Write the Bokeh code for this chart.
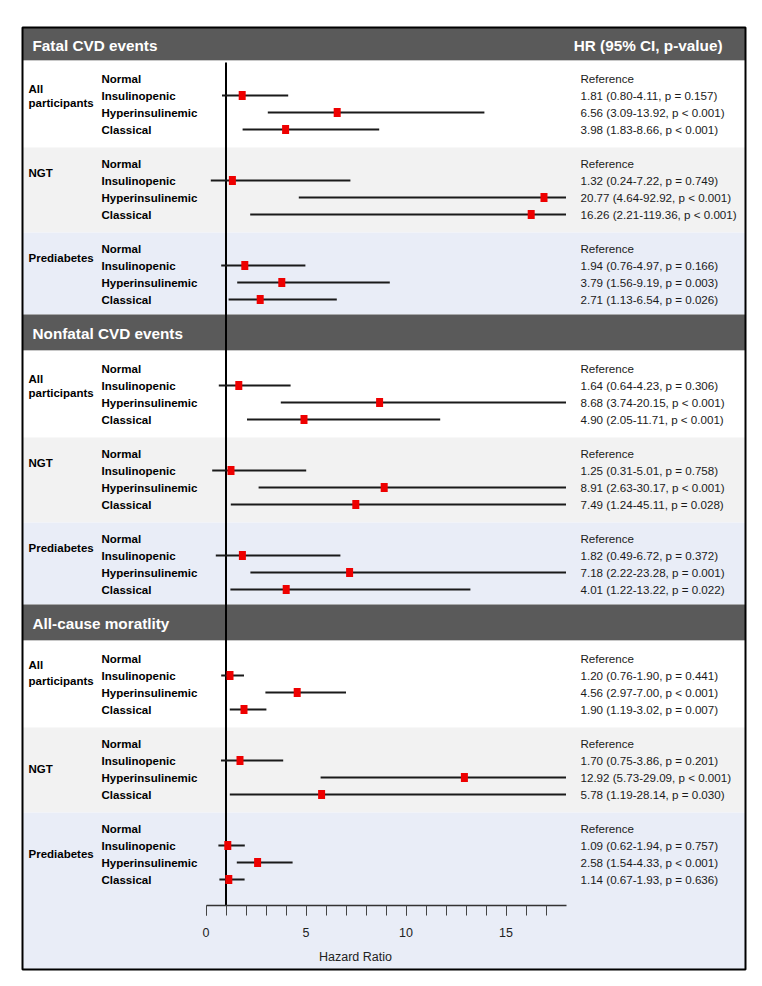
from bokeh.plotting import figure
from bokeh.models import Range1d, LinearAxis, FixedTicker, ColumnDataSource
from bokeh.core.properties import value
from bokeh.embed import file_html
from bokeh.resources import INLINE

# ---------------- data ----------------
sections = ["Fatal CVD events", "Nonfatal CVD events", "All-cause moratlity"]
groups = ["All participants", "NGT", "Prediabetes"]
subgroups = ["Normal", "Insulinopenic", "Hyperinsulinemic", "Classical"]
header_right = "HR (95% CI, p-value)"

# HR, lower CI, upper CI, p-text for Insulinopenic / Hyperinsulinemic / Classical
fatal_hr = [1.81, 6.56, 3.98, 1.32, 20.77, 16.26, 1.94, 3.79, 2.71]
fatal_lo = [0.80, 3.09, 1.83, 0.24, 4.64, 2.21, 0.76, 1.56, 1.13]
fatal_hi = [4.11, 13.92, 8.66, 7.22, 92.92, 119.36, 4.97, 9.19, 6.54]
fatal_p = ["= 0.157", "< 0.001", "< 0.001", "= 0.749", "< 0.001", "< 0.001",
           "= 0.166", "= 0.003", "= 0.026"]

nonfatal_hr = [1.64, 8.68, 4.90, 1.25, 8.91, 7.49, 1.82, 7.18, 4.01]
nonfatal_lo = [0.64, 3.74, 2.05, 0.31, 2.63, 1.24, 0.49, 2.22, 1.22]
nonfatal_hi = [4.23, 20.15, 11.71, 5.01, 30.17, 45.11, 6.72, 23.28, 13.22]
nonfatal_p = ["= 0.306", "< 0.001", "< 0.001", "= 0.758", "< 0.001", "= 0.028",
              "= 0.372", "= 0.001", "= 0.022"]

mort_hr = [1.20, 4.56, 1.90, 1.70, 12.92, 5.78, 1.09, 2.58, 1.14]
mort_lo = [0.76, 2.97, 1.19, 0.75, 5.73, 1.19, 0.62, 1.54, 0.67]
mort_hi = [1.90, 7.00, 3.02, 3.86, 29.09, 28.14, 1.94, 4.33, 1.93]
mort_p = ["= 0.441", "< 0.001", "= 0.007", "= 0.201", "< 0.001", "= 0.030",
          "= 0.757", "< 0.001", "= 0.636"]

x_ticks = [0, 5, 10, 15]
x_minor = list(range(0, 18))
x_axis_max = 18
x_label = "Hazard Ratio"
reference_hr = 1

# ---------------- layout constants (page pixels) ----------------
W, H = 750, 972
FONT = "Liberation Sans"
box_l, box_r, box_t, box_b = 22, 745, 27, 969
row0_first = 78
sec_step = 290
grp_step = 85
row_step = 17
axis_y = 905
label_x, sub_x, hr_x = 28, 101, 580
single_off = [9, 9, 25.5]
double_off = [(10, 24), (10, 24), (6, 22)]
band_colors = ["#ffffff", "#f2f2f2", "#e9edf7"]
header_color = "#5a5a5a"
marker_cap = 16.9
x0_px, px_per_unit = 205.5, 20.0

all_data = [(fatal_hr, fatal_lo, fatal_hi, fatal_p),
            (nonfatal_hr, nonfatal_lo, nonfatal_hi, nonfatal_p),
            (mort_hr, mort_lo, mort_hi, mort_p)]

p = figure(width=W, height=H, output_backend="svg", toolbar_location=None,
           x_range=Range1d(-x0_px / px_per_unit, (W - x0_px) / px_per_unit),
           y_range=Range1d(H, 0),
           x_axis_type=None, y_axis_type=None, min_border=0)
p.extra_x_ranges = {"px": Range1d(0, W)}
p.outline_line_color = None
p.background_fill_color = "white"
p.border_fill_color = "white"

# bands and headers
for s, sec in enumerate(sections):
    base = row0_first + sec_step * s
    htop = max(base - 54, box_t)
    hbot = base - 18
    for k in range(3):
        top = hbot if k == 0 else base + grp_step * k - 16
        if k < 2:
            bot = base + grp_step * (k + 1) - 16
        else:
            bot = (row0_first + sec_step * (s + 1) - 54) if s < 2 else box_b
        p.quad(left=box_l, right=box_r, top=top, bottom=bot, fill_color=band_colors[k],
               line_color=None, x_range_name="px")
    p.quad(left=box_l, right=box_r, top=htop, bottom=hbot, fill_color=header_color,
           line_color=None, x_range_name="px")
    p.segment(x0=box_l, x1=box_r, y0=hbot, y1=hbot, line_color="#c8c8c8", line_width=1,
              x_range_name="px")
    p.text(x=[32], y=[(htop + hbot) / 2 + 1], text=[sec], text_color="white",
           text_font=value(FONT), text_font_style="bold", text_font_size="15.3px",
           text_baseline="middle", x_range_name="px")
    if s == 0:
        p.text(x=[722], y=[(htop + hbot) / 2 + 1], text=[header_right], text_color="white",
               text_font=value(FONT), text_font_style="bold", text_font_size="15.3px",
               text_baseline="middle", text_align="right", x_range_name="px")

# reference line
p.segment(x0=[reference_hr], x1=[reference_hr], y0=[62], y1=[axis_y],
          line_color="black", line_width=2)

# rows
for s, (hr, lo, hi, pv) in enumerate(all_data):
    base = row0_first + sec_step * s
    ys, x0s, x1s, xm = [], [], [], []
    sub_y, sub_t, hr_t = [], [], []
    for k, g in enumerate(groups):
        g0 = base + grp_step * k
        if " " in g:
            a, b = g.split(" ", 1)
            p.text(x=[label_x, label_x], y=[g0 + double_off[s][0], g0 + double_off[s][1]],
                   text=[a, b], text_font=value(FONT), text_font_style="bold",
                   text_font_size="11.5px", text_baseline="middle", text_color="black",
                   x_range_name="px")
        else:
            p.text(x=[label_x], y=[g0 + single_off[s]], text=[g], text_font=value(FONT),
                   text_font_style="bold", text_font_size="11.5px", text_baseline="middle",
                   text_color="black", x_range_name="px")
        for r, sg in enumerate(subgroups):
            y = g0 + row_step * r
            sub_y.append(y)
            sub_t.append(sg)
            if r == 0:
                hr_t.append("Reference")
                continue
            i = k * 3 + (r - 1)
            hr_t.append(f"{hr[i]:.2f} ({lo[i]:.2f}-{hi[i]:.2f}, p {pv[i]})")
            ys.append(y)
            x0s.append(lo[i])
            x1s.append(min(hi[i], x_axis_max))
            xm.append(min(hr[i], marker_cap))
    p.text(x=[sub_x] * len(sub_y), y=sub_y, text=sub_t, text_font=value(FONT),
           text_font_style="bold", text_font_size="11.5px", text_baseline="middle",
           text_color="black", x_range_name="px")
    p.text(x=[hr_x] * len(sub_y), y=sub_y, text=hr_t, text_font=value(FONT),
           text_font_size="11.6px", text_baseline="middle", text_color="#1a1a1a",
           x_range_name="px")
    src = ColumnDataSource(dict(y=ys, x0=x0s, x1=x1s, xm=xm))
    p.segment(x0="x0", x1="x1", y0="y", y1="y", source=src, line_color="#1a1a1a",
              line_width=2)
    p.rect(x="xm", y="y", width=7, height=9, width_units="screen", height_units="screen",
           source=src, fill_color="#ee0000", line_color=None)

# x axis inside the frame
ax = LinearAxis(fixed_location=axis_y, bounds=(0, x_axis_max),
                ticker=FixedTicker(ticks=x_ticks, minor_ticks=x_minor))
ax.axis_line_color = "#333333"
ax.axis_line_width = 1.5
ax.major_tick_in = 0
ax.major_tick_out = 10
ax.minor_tick_in = 0
ax.minor_tick_out = 10
ax.major_tick_line_color = "#444444"
ax.minor_tick_line_color = "#444444"
ax.major_label_text_font = FONT
ax.major_label_text_font_size = "12.5px"
ax.major_label_text_color = "#222222"
ax.major_label_standoff = 12
p.add_layout(ax, "below")

p.text(x=[355], y=[956], text=[x_label], text_font=value(FONT), text_font_size="12.5px",
       text_align="center", text_baseline="middle", text_color="#222222", x_range_name="px")

# outer box
p.quad(left=box_l, right=box_r, top=box_t, bottom=box_b, fill_color=None,
       line_color="black", line_width=2, x_range_name="px")

open("out.html", "w").write(file_html(p, INLINE))
